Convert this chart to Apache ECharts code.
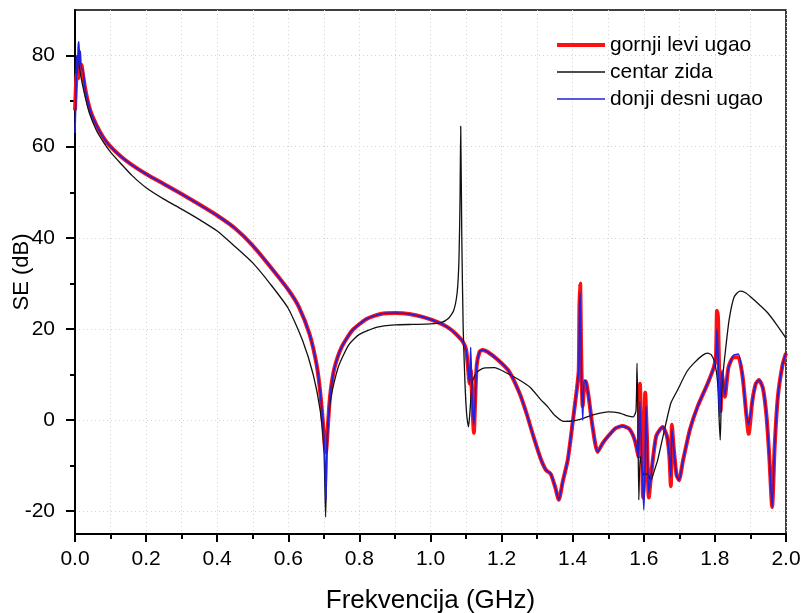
<!DOCTYPE html>
<html>
<head>
<meta charset="utf-8">
<script src="https://cdn.jsdelivr.net/npm/echarts@6/dist/echarts.min.js"></script>
<style>html,body{margin:0;padding:0;background:#fff}#c{width:805px;height:613px}</style>
</head>
<body>
<div id="c"></div>
<script>
// ---- data ----
const seriesNames = ['gornji levi ugao', 'centar zida', 'donji desni ugao'];
const xTickLabels = ['0.0','0.2','0.4','0.6','0.8','1.0','1.2','1.4','1.6','1.8','2.0'];
const yTickLabels = [-20, 0, 20, 40, 60, 80];
const yMinorTicks = [-10, 10, 30, 50, 70];

const gornjiLevi = [
[0.000,68],[0.003,74],[0.006,77],[0.009,75],[0.012,78],[0.015,77],[0.018,78],[0.022,76],[0.028,73],[0.035,70.3],[0.045,67.5],[0.06,64.8],[0.08,62],[0.10,60],[0.13,57.8],[0.16,56],[0.20,54],[0.25,51.8],[0.30,49.6],[0.35,47.3],[0.40,44.9],[0.45,42.1],[0.50,38.3],[0.55,33.6],[0.60,28.6],[0.63,24.8],[0.66,18.8],[0.68,12],[0.69,6],[0.698,-1],[0.703,-6],[0.706,-7],[0.710,-3],[0.715,3],[0.72,7],[0.73,11.5],[0.75,16],[0.78,19.7],[0.82,22.2],[0.86,23.3],[0.90,23.5],[0.94,23.3],[0.98,22.6],[1.02,21.5],[1.05,20.3],[1.07,19],[1.09,17.3],[1.10,15.5],[1.105,12],[1.11,8],[1.113,11],[1.117,5],[1.122,-2.8],[1.126,5],[1.13,12],[1.138,15],[1.146,15.4],[1.16,15],[1.19,13.2],[1.22,10.8],[1.25,6],[1.27,1.5],[1.29,-3.7],[1.31,-8.5],[1.325,-11],[1.338,-11.8],[1.35,-14.5],[1.361,-17.5],[1.372,-13.5],[1.386,-8.8],[1.40,-0.5],[1.412,7],[1.417,11],[1.419,25],[1.421,30],[1.424,14],[1.428,3],[1.432,7],[1.437,8.5],[1.445,5],[1.455,-1],[1.47,-7],[1.485,-5],[1.50,-3.5],[1.52,-1.8],[1.54,-1.3],[1.56,-2],[1.575,-4.5],[1.585,-8],[1.589,8],[1.594,-5],[1.598,-17],[1.601,-12],[1.604,6],[1.609,-4],[1.614,-17],[1.622,-11],[1.635,-3.5],[1.653,-1.5],[1.665,-3.5],[1.672,-8],[1.676,-14.5],[1.679,-1],[1.684,-6],[1.692,-12],[1.699,-13.2],[1.71,-9],[1.73,-2],[1.751,2.9],[1.78,8.1],[1.797,11.6],[1.803,14],[1.806,24],[1.809,22],[1.812,10],[1.816,2],[1.82,10],[1.828,5.1],[1.838,11.5],[1.852,13.8],[1.866,13.8],[1.878,9.5],[1.888,1.5],[1.895,-3],[1.905,4],[1.915,8],[1.924,8.8],[1.935,7],[1.945,1],[1.953,-8],[1.961,-19.1],[1.968,-6],[1.977,5],[1.99,12],[2.0,14.7]
];

const centarZida = [
[0.000,76],[0.003,80],[0.006,78.5],[0.009,79],[0.013,77],[0.02,74],[0.03,70.5],[0.04,67.5],[0.06,63.6],[0.08,61],[0.10,58.8],[0.13,56.2],[0.16,53.7],[0.20,51],[0.25,48.5],[0.30,46.3],[0.35,44],[0.40,41.5],[0.45,38.1],[0.50,34.5],[0.55,29.8],[0.60,24.5],[0.64,17.5],[0.67,10],[0.69,2],[0.70,-6],[0.705,-21.3],[0.71,-3],[0.72,5],[0.74,11.5],[0.77,16.5],[0.80,18.8],[0.85,20.4],[0.90,20.9],[0.95,21],[1.00,21.1],[1.03,21.4],[1.05,22.3],[1.065,24],[1.075,28],[1.08,35],[1.083,48],[1.085,64.5],[1.088,40],[1.092,20],[1.097,8],[1.102,1],[1.107,-1.5],[1.112,3],[1.118,8.5],[1.13,10.5],[1.15,11.4],[1.18,11.5],[1.21,10.5],[1.25,8.8],[1.28,7.2],[1.31,4.5],[1.33,2.9],[1.35,1.0],[1.375,-0.3],[1.40,-0.2],[1.43,0.4],[1.46,1.2],[1.50,1.8],[1.53,1.6],[1.555,0.9],[1.57,0.7],[1.578,2],[1.581,12.5],[1.583,3],[1.586,-17.5],[1.59,-8],[1.60,-12],[1.61,-11.8],[1.62,-13.2],[1.63,-11],[1.639,-8.8],[1.656,-2.9],[1.676,3.7],[1.695,6.6],[1.72,10.5],[1.741,12.5],[1.765,14.2],[1.78,14.7],[1.79,14.3],[1.80,12.5],[1.808,8],[1.812,0],[1.815,-4.4],[1.818,4],[1.822,9.4],[1.83,15.5],[1.84,22],[1.854,27],[1.87,28.3],[1.885,28],[1.901,27],[1.925,25.3],[1.949,23.5],[1.975,20.8],[2.0,18]
];

const donjiDesni = [
[0.000,63],[0.003,72],[0.005,80],[0.007,76],[0.009,82],[0.011,83],[0.013,78],[0.015,81],[0.018,77],[0.022,77],[0.028,73],[0.035,70.3],[0.045,67.5],[0.06,64.8],[0.08,62],[0.10,60],[0.13,57.8],[0.16,56],[0.20,54],[0.25,51.8],[0.30,49.6],[0.35,47.3],[0.40,44.9],[0.45,42.1],[0.50,38.3],[0.55,33.6],[0.60,28.6],[0.63,24.8],[0.66,18.8],[0.68,12],[0.69,6],[0.698,-1],[0.703,-8],[0.706,-17.5],[0.709,-6],[0.715,3],[0.72,7],[0.73,11.5],[0.75,16],[0.78,19.7],[0.82,22.2],[0.86,23.3],[0.90,23.5],[0.94,23.3],[0.98,22.6],[1.02,21.5],[1.05,20.3],[1.07,19],[1.09,17.3],[1.10,15.5],[1.105,12],[1.11,8],[1.113,16],[1.117,5],[1.122,-1],[1.126,5],[1.13,12],[1.138,15],[1.146,15.4],[1.16,15],[1.19,13.2],[1.22,10.8],[1.25,6],[1.27,1.5],[1.29,-3.7],[1.31,-8.5],[1.325,-11],[1.338,-11.8],[1.35,-14.5],[1.361,-17.5],[1.372,-13.5],[1.386,-8.8],[1.40,-0.5],[1.412,7],[1.417,11],[1.419,24],[1.421,28],[1.424,12],[1.428,0],[1.432,8.8],[1.437,8.5],[1.445,5],[1.455,-1],[1.47,-7],[1.485,-5],[1.50,-3.5],[1.52,-1.8],[1.54,-1.3],[1.56,-2],[1.575,-4.5],[1.585,-8],[1.589,4],[1.594,-8],[1.600,-19.7],[1.603,-12],[1.606,3],[1.609,-4],[1.614,-16],[1.622,-11],[1.635,-3.5],[1.653,-1.5],[1.665,-3.5],[1.672,-8],[1.676,-12.5],[1.679,-2],[1.684,-6],[1.692,-12],[1.699,-13.2],[1.71,-9],[1.73,-2],[1.751,2.9],[1.78,8.1],[1.797,11.6],[1.803,14],[1.806,20],[1.809,14],[1.813,0.7],[1.817,8],[1.82,11],[1.828,5.5],[1.838,11.5],[1.852,14.2],[1.866,14.5],[1.878,9.5],[1.888,1.5],[1.895,-1],[1.905,4],[1.915,8],[1.924,8.8],[1.935,7],[1.945,1],[1.953,-8],[1.961,-19],[1.968,-6],[1.977,5],[1.99,12],[2.0,14.7]
];

// ---- chart ----
const chart = echarts.init(document.getElementById('c'), null, {renderer: 'canvas'});
const FONT = 'Liberation Sans, Arial, sans-serif';
const gridLine = {show: true, lineStyle: {color: '#d4d4d4', type: [1, 3], width: 1}};
const RED = '#ff1010', BLACK = '#111', BLUE = '#2020e0';

chart.setOption({
  animation: false,
  backgroundColor: '#fff',
  textStyle: {fontFamily: FONT},
  grid: {left: 75, right: 19, top: 10, bottom: 79, outerBoundsMode: 'none', containLabel: false,
         show: true, borderColor: '#000', borderWidth: 1.5, backgroundColor: 'transparent'},
  legend: {
    orient: 'vertical', left: 555, top: 33, padding: 0, itemWidth: 48, itemHeight: 14, itemGap: 3,
    itemStyle: {opacity: 0},
    textStyle: {fontSize: 21, color: '#000', fontFamily: FONT, lineHeight: 24},
    data: [
      {name: seriesNames[0], lineStyle: {width: 4, color: RED}},
      {name: seriesNames[1], lineStyle: {width: 1.3, color: BLACK}},
      {name: seriesNames[2], lineStyle: {width: 1.6, color: BLUE}}
    ]
  },
  xAxis: {
    type: 'value', min: 0, max: 2, interval: 0.2,
    name: 'Frekvencija (GHz)', nameLocation: 'middle', nameGap: 54,
    nameTextStyle: {fontSize: 26, color: '#000', fontFamily: FONT},
    axisLine: {onZero: false, lineStyle: {color: '#000', width: 2}},
    axisTick: {show: true, inside: false, length: 8, lineStyle: {color: '#000', width: 2}},
    minorTick: {show: true, splitNumber: 2, length: 5, lineStyle: {color: '#000', width: 2}},
    axisLabel: {fontSize: 21, color: '#000', margin: 15, fontFamily: FONT,
      formatter: function (v) { const i = Math.round(v / 0.2); return xTickLabels[i] !== undefined ? xTickLabels[i] : ''; }},
    splitLine: gridLine,
    minorSplitLine: gridLine
  },
  yAxis: [{
    type: 'value', min: -25, max: 90, splitNumber: 11, position: 'left',
    name: 'SE (dB)', nameLocation: 'middle', nameGap: 42, nameMoveOverlap: false,
    nameTextStyle: {fontSize: 22, color: '#000', fontFamily: FONT},
    axisLine: {show: true, onZero: false, lineStyle: {color: '#000', width: 2}},
    axisTick: {show: true, inside: false, length: 9, customValues: yTickLabels, lineStyle: {color: '#000', width: 2}},
    axisLabel: {fontSize: 21, color: '#000', margin: 20, fontFamily: FONT, customValues: yTickLabels,
      formatter: function (v) { return yTickLabels.indexOf(v) >= 0 ? String(v) : ''; }},
    splitLine: gridLine
  }, {
    type: 'value', min: -25, max: 90, position: 'right', offset: -711,
    axisLine: {show: false, onZero: false},
    axisTick: {show: true, inside: true, length: 5, customValues: yMinorTicks, lineStyle: {color: '#000', width: 2}},
    axisLabel: {show: false},
    splitLine: {show: false}
  }],
  series: [
    {name: seriesNames[0], type: 'line', data: gornjiLevi, showSymbol: false, symbol: 'none', smooth: 0.2,
     color: RED, lineStyle: {width: 4, color: RED}, z: 2},
    {name: seriesNames[1], type: 'line', data: centarZida, showSymbol: false, symbol: 'none', smooth: 0.2,
     color: BLACK, lineStyle: {width: 1.3, color: BLACK}, z: 3},
    {name: seriesNames[2], type: 'line', data: donjiDesni, showSymbol: false, symbol: 'none', smooth: 0.2,
     color: BLUE, lineStyle: {width: 1.6, color: BLUE}, z: 4}
  ]
});
</script>
</body>
</html>
